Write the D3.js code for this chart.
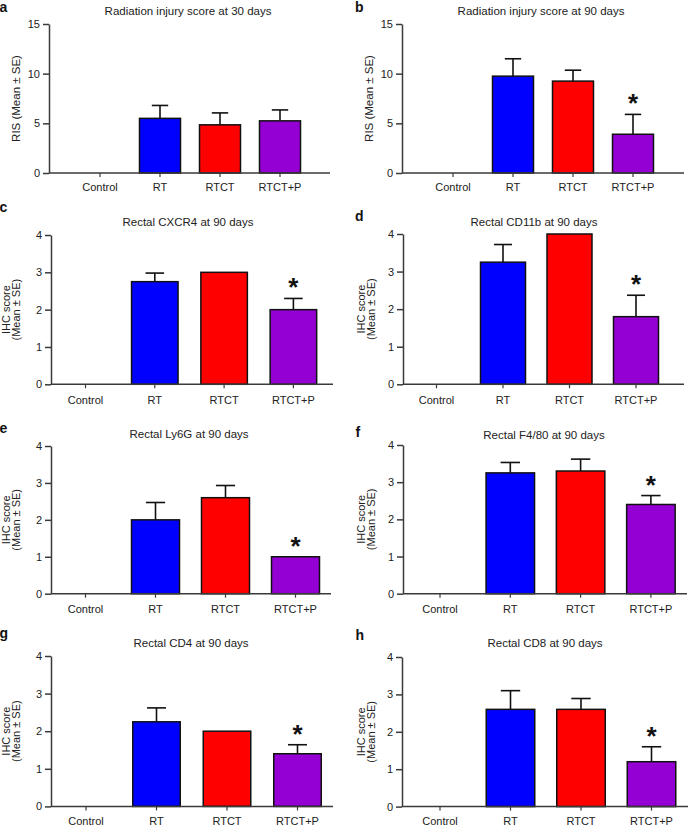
<!DOCTYPE html>
<html>
<head>
<meta charset="utf-8">
<script src="https://cdn.jsdelivr.net/npm/d3@7"></script>
<style>
  html, body { margin: 0; padding: 0; background: #fff; }
  svg { display: block; font-family: "Liberation Sans", Arial, sans-serif; }
</style>
</head>
<body>
<svg id="chart" width="688" height="826"></svg>
<script>
// ---------------- data ----------------
const categories = ["Control", "RT", "RTCT", "RTCT+P"];
const barColors = ["#ffffff", "#0000ff", "#ff0000", "#9400d3"];
const panelLetters = ["a", "b", "c", "d", "e", "f", "g", "h"];
const panelTitles = [
  "Radiation injury score at 30 days",
  "Radiation injury score at 90 days",
  "Rectal CXCR4 at 90 days",
  "Rectal CD11b at 90 days",
  "Rectal Ly6G at 90 days",
  "Rectal F4/80 at 90 days",
  "Rectal CD4 at 90 days",
  "Rectal CD8 at 90 days"
];
const yLabelLines = [
  ["RIS (Mean \u00b1 SE)"],
  ["RIS (Mean \u00b1 SE)"],
  ["IHC score", "(Mean \u00b1 SE)"],
  ["IHC score", "(Mean \u00b1 SE)"],
  ["IHC score", "(Mean \u00b1 SE)"],
  ["IHC score", "(Mean \u00b1 SE)"],
  ["IHC score", "(Mean \u00b1 SE)"],
  ["IHC score", "(Mean \u00b1 SE)"]
];
const yMax = [15, 15, 4, 4, 4, 4, 4, 4];
const risTicks = [0, 5, 10, 15];
const ihcTicks = [0, 1, 2, 3, 4];
const means = [
  [0, 5.5, 4.85, 5.25],
  [0, 9.75, 9.25, 3.9],
  [0, 2.75, 3.0, 2.0],
  [0, 3.25, 4.0, 1.8],
  [0, 2.0, 2.6, 1.0],
  [0, 3.25, 3.3, 2.4],
  [0, 2.25, 2.0, 1.4],
  [0, 2.6, 2.6, 1.2]
];
const errors = [
  [0, 1.3, 1.2, 1.1],
  [0, 1.75, 1.1, 2.0],
  [0, 0.23, 0, 0.3],
  [0, 0.47, 0, 0.57],
  [0, 0.47, 0.33, 0],
  [0, 0.28, 0.32, 0.24],
  [0, 0.37, 0, 0.24],
  [0, 0.5, 0.29, 0.4]
];
const significant = [
  [false, false, false, false],
  [false, false, false, true],
  [false, false, false, true],
  [false, false, false, true],
  [false, false, false, true],
  [false, false, false, true],
  [false, false, false, true],
  [false, false, false, true]
];

// ---------------- layout (pixels) ----------------
const layout = [
  { ax: 49,  top: 24,  zero: 173,   c0: 100,   step: 60,   bw: 41,   xEnd: 330, lx: -0.5, ly: 12.3, tx: 188, ty: 15,  yl: 20,    xlOff: 18.5 },
  { ax: 402, top: 24,  zero: 173,   c0: 453,   step: 60,   bw: 41,   xEnd: 684, lx: 355,  ly: 12.3, tx: 541, ty: 15,  yl: 372.5, xlOff: 18.5 },
  { ax: 51,  top: 235, zero: 384.3, c0: 85.5,  step: 69.3, bw: 46.5, xEnd: 333, lx: -0.5, ly: 212,  tx: 188, ty: 226, yl: 10,    xlOff: 20 },
  { ax: 403, top: 234, zero: 384.3, c0: 436.5, step: 66.5, bw: 45,   xEnd: 684, lx: 355,  ly: 220.7, tx: 534, ty: 226, yl: 364.5, xlOff: 20 },
  { ax: 51,  top: 446, zero: 593.7, c0: 85.5,  step: 70,   bw: 48,   xEnd: 331, lx: -0.5, ly: 433,  tx: 189, ty: 438, yl: 10,    xlOff: 20 },
  { ax: 403, top: 445, zero: 593.7, c0: 440,   step: 70.3, bw: 48.5, xEnd: 687, lx: 355.5, ly: 437, tx: 544, ty: 439, yl: 364.5, xlOff: 20 },
  { ax: 51,  top: 656, zero: 806.4, c0: 86,    step: 70.5, bw: 47.5, xEnd: 333, lx: -0.5, ly: 637.5, tx: 191, ty: 647, yl: 10,    xlOff: 19 },
  { ax: 402, top: 657, zero: 806.6, c0: 440,   step: 70.5, bw: 48.5, xEnd: 688, lx: 355.5, ly: 640, tx: 545, ty: 647, yl: 364.5, xlOff: 19 }
];

const svg = d3.select("#chart");
const axisColor = "#3a3a3a";

layout.forEach((L, i) => {
  const g = svg.append("g");
  const y = d3.scaleLinear().domain([0, yMax[i]]).range([L.zero, L.top]);
  const pI = 1 - L.bw / L.step;
  const x = d3.scaleBand()
    .domain(categories)
    .range([L.c0 - L.step / 2, L.c0 + 3.5 * L.step])
    .paddingInner(pI)
    .paddingOuter(pI / 2);

  const rows = categories.map((c, k) => ({
    cat: c, mean: means[i][k], se: errors[i][k], sig: significant[i][k], color: barColors[k]
  }));

  // error bars (behind bars)
  const eb = rows.filter(d => d.mean > 0 && d.se > 0);
  g.selectAll(".err").data(eb).join("line")
    .attr("x1", d => x(d.cat) + x.bandwidth() / 2)
    .attr("x2", d => x(d.cat) + x.bandwidth() / 2)
    .attr("y1", d => y(d.mean))
    .attr("y2", d => y(d.mean + d.se))
    .attr("stroke", "#111").attr("stroke-width", 1.6);
  g.selectAll(".cap").data(eb).join("line")
    .attr("x1", d => x(d.cat) + x.bandwidth() * 0.3)
    .attr("x2", d => x(d.cat) + x.bandwidth() * 0.7)
    .attr("y1", d => y(d.mean + d.se))
    .attr("y2", d => y(d.mean + d.se))
    .attr("stroke", "#111").attr("stroke-width", 1.6);

  // bars
  g.selectAll(".bar").data(rows.filter(d => d.mean > 0)).join("rect")
    .attr("x", d => x(d.cat))
    .attr("width", x.bandwidth())
    .attr("y", d => y(d.mean))
    .attr("height", d => y(0) - y(d.mean))
    .attr("fill", d => d.color)
    .attr("stroke", "#111").attr("stroke-width", 1.5);

  // significance asterisks
  g.selectAll(".sig").data(rows.filter(d => d.sig)).join("text")
    .attr("x", d => x(d.cat) + x.bandwidth() / 2)
    .attr("y", d => y(d.mean + d.se) - 2)
    .attr("text-anchor", "middle")
    .attr("font-size", 26).attr("font-weight", "bold")
    .attr("fill", "#111")
    .text("*");

  // y axis
  const yAxis = d3.axisLeft(y)
    .tickValues(yMax[i] === 15 ? risTicks : ihcTicks)
    .tickFormat(d3.format("d"))
    .tickSize(6).tickSizeOuter(0).tickPadding(3);
  const ya = g.append("g").attr("transform", `translate(${L.ax},0)`).call(yAxis);
  ya.select(".domain").attr("stroke", axisColor).attr("stroke-width", 1.5);
  ya.selectAll(".tick line").attr("stroke", axisColor).attr("stroke-width", 1.5);
  ya.selectAll(".tick text").attr("font-size", 11).attr("fill", "#222")
    .attr("font-family", "Liberation Sans, Arial, sans-serif");

  // x axis
  const xAxis = d3.axisBottom(x).tickSize(4).tickSizeOuter(0).tickPadding(L.xlOff - 12);
  const xa = g.append("g").attr("transform", `translate(0,${L.zero})`).call(xAxis);
  xa.select(".domain").remove();
  xa.selectAll(".tick line").attr("stroke", axisColor).attr("stroke-width", 1.2);
  xa.selectAll(".tick text").attr("font-size", 11).attr("fill", "#222")
    .attr("font-family", "Liberation Sans, Arial, sans-serif");
  g.append("line")
    .attr("x1", L.ax).attr("x2", L.xEnd)
    .attr("y1", y(0)).attr("y2", y(0))
    .attr("stroke", axisColor).attr("stroke-width", 1.5);

  // title
  g.append("text")
    .attr("x", L.tx).attr("y", L.ty)
    .attr("text-anchor", "middle")
    .attr("font-size", 11.5).attr("fill", "#222")
    .text(panelTitles[i]);

  // panel letter
  g.append("text")
    .attr("x", L.lx).attr("y", L.ly)
    .attr("font-size", 14).attr("font-weight", "bold").attr("fill", "#111")
    .text(panelLetters[i]);

  // y label
  const midY = (L.top + L.zero) / 2;
  const lines = yLabelLines[i];
  const fs = lines.length === 1 ? 11.5 : 11;
  lines.forEach((t, k) => {
    const bx = L.yl + k * 10;
    g.append("text")
      .attr("transform", `translate(${bx},${midY}) rotate(-90)`)
      .attr("text-anchor", "middle")
      .attr("font-size", fs).attr("fill", "#222")
      .text(t);
  });
});
</script>
</body>
</html>
